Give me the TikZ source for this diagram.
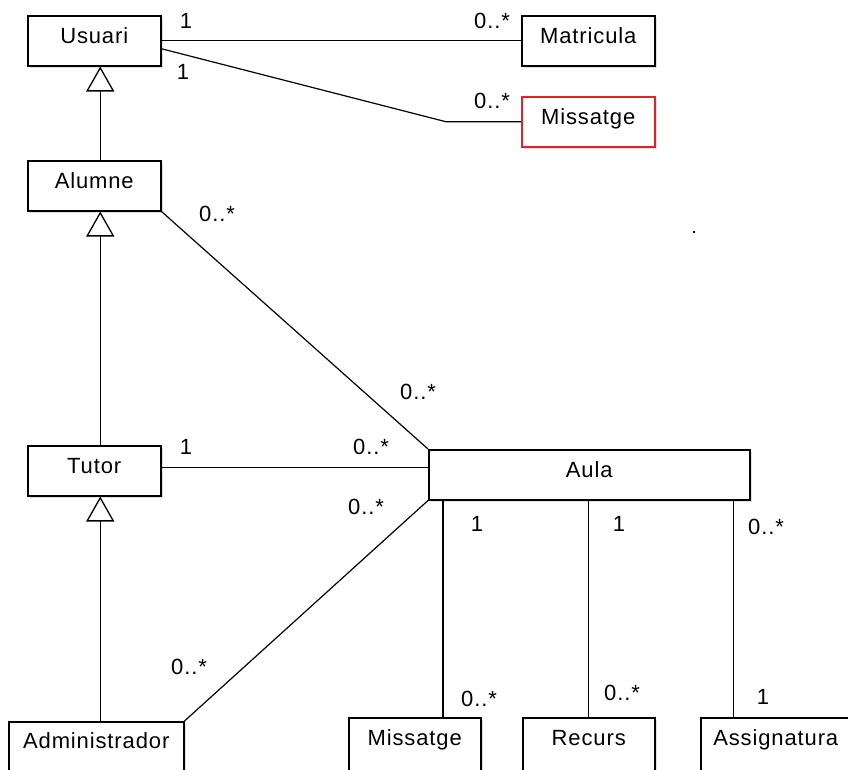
\documentclass[tikz,border=0pt]{standalone}
\usepackage{fontspec}
\setmainfont[LetterSpace=4]{Liberation Sans}
\usetikzlibrary{arrows.meta,shadows}
\definecolor{umlred}{RGB}{230,30,40}

\tikzset{
    cls/.style={draw, fill=white, line width=1.5pt, rectangle, inner sep=0pt,
        text height=28pt, text depth=22pt, anchor=north west,
        drop shadow={shadow xshift=2pt, shadow yshift=-2pt, opacity=0.25}},
    clsopen/.style={cls, text depth=34pt},
    assoc/.style={draw, line width=1.2pt},
    gen/.style={draw, line width=1.3pt, -{Triangle[width=28pt, length=25pt, fill=white]}},
    mult/.style={inner sep=0pt}
}

\begin{document}
\begin{tikzpicture}[x=1pt, y=-1pt, font=\fontsize{22}{26}\selectfont]
        \useasboundingbox (0,0) rectangle (848,769);

        % classes
        \node[cls, minimum width=133pt] (usuari) at (27,15) {Usuari};
        \node[cls, minimum width=133pt] (matricula) at (521,15) {Matricula};
        \node[cls, minimum width=133pt, draw=umlred] (missatge) at (521,96) {Missatge};
        \node[cls, minimum width=133pt] (alumne) at (27,160) {Alumne};
        \node[cls, minimum width=133pt] (tutor) at (27,445) {Tutor};
        \node[cls, minimum width=321pt] (aula) at (428,449) {Aula};
        \node[clsopen, minimum width=175pt, text height=27pt] (admin) at (8,721) {Administrador};
        \node[clsopen, minimum width=132pt] (missatgeb) at (348,717) {Missatge};
        \node[clsopen, minimum width=132pt] (recurs) at (522,717) {Recurs};
        \node[clsopen, minimum width=160pt, align=left] (assig) at (700,717) {\hspace{6pt}Assignatura\hspace{16pt}};

        % herencia
        \draw[gen] ([xshift=6pt]alumne.north) -- ([xshift=6pt]usuari.south);
        \draw[gen] ([xshift=6pt]tutor.north) -- ([xshift=6pt]alumne.south);
        \draw[gen] ([xshift=6pt]tutor.south |- admin.north) -- ([xshift=6pt]tutor.south);

        % associacions
        \coordinate (bend) at ([xshift=-75pt]missatge.west);
        \draw[assoc] (usuari) -- (matricula);
        \draw[assoc] ([yshift=-8pt]usuari.east) -- (bend) -- (missatge.west);
        \draw[assoc] (alumne.south east) -- (aula.north west);
        \draw[assoc] ([yshift=3pt]tutor.east) -- ([yshift=3pt]tutor.east -| aula.west);
        \draw[assoc] (admin.north east) -- (aula.south west);
        \draw[assoc] ([xshift=15pt]aula.south west) -- ([xshift=15pt]aula.south west |- missatgeb.north);
        \draw[assoc] (recurs.north |- aula.south) -- (recurs.north);
        \draw[assoc] ([xshift=-17pt]aula.south east) -- ([xshift=-17pt]aula.south east |- assig.north);

        % multiplicitats
        \node[mult] (um) at (186,21) {1};
        \node[mult] (mu) at (492,21) {0..*};
        \node[mult] (us) at (183,72) {1};
        \node[mult] (su) at (492,101) {0..*};
        \node[mult] (aa) at (217,214) {0..*};
        \node[mult] (la) at (418,392) {0..*};
        \node[mult] (tl) at (186,447) {1};
        \node[mult] (lt) at (371,447) {0..*};
        \node[mult] (ld) at (366,507) {0..*};
        \node[mult] (dl) at (189,667) {0..*};
        \node[mult] (lm) at (477,524) {1};
        \node[mult] (ml) at (479,699) {0..*};
        \node[mult] (lr) at (619,524) {1};
        \node[mult] (rl) at (622,693) {0..*};
        \node[mult] (lg) at (766,527) {0..*};
        \node[mult] (gl) at (763,697) {1};

        \fill (693.3,231.3) rectangle (694.7,232.7);
    \end{tikzpicture}
\end{document}
